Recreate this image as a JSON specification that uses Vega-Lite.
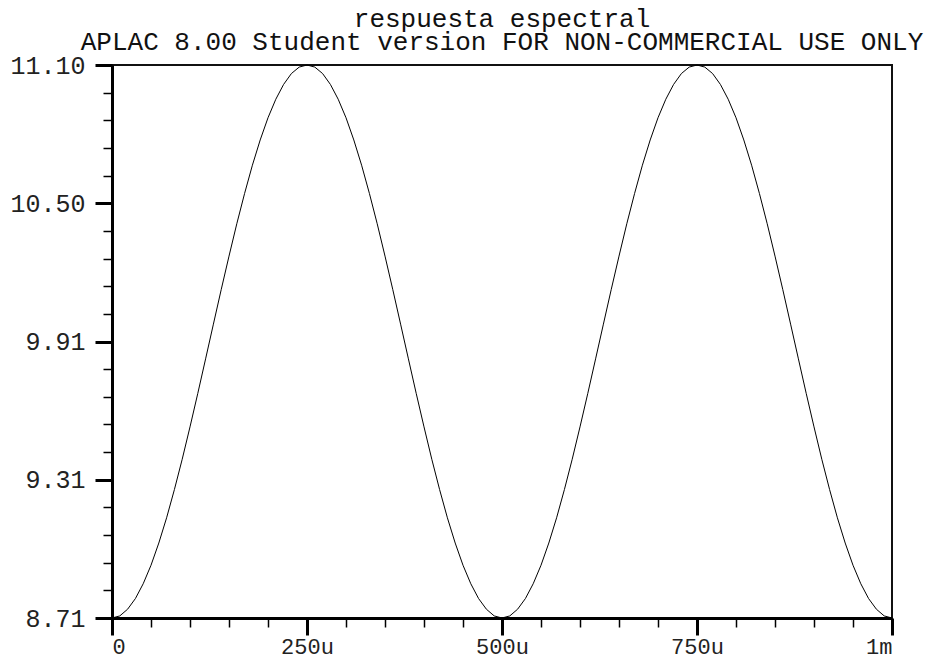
{
  "$schema": "https://vega.github.io/schema/vega-lite/v6.json",
  "width": 780,
  "height": 553,
  "autosize": {"type": "none"},
  "padding": {"left": 112, "top": 65, "right": 36, "bottom": 45},
  "background": "white",
  "title": {
    "text": "respuesta espectral",
    "subtitle": "APLAC 8.00 Student version FOR NON-COMMERCIAL USE ONLY",
    "font": "Liberation Mono",
    "subtitleFont": "Liberation Mono",
    "fontSize": 26,
    "subtitleFontSize": 26,
    "fontWeight": "normal",
    "color": "#111",
    "subtitleColor": "#111",
    "anchor": "middle",
    "lineHeight": 20,
    "subtitleLineHeight": 20,
    "subtitlePadding": -3,
    "offset": -2
  },
  "config": {
    "view": {"stroke": "#111", "strokeWidth": 2},
    "axis": {"grid": false, "title": null, "labelFont": "Liberation Mono", "labelFontSize": 25, "labelColor": "#222", "domainColor": "#000", "tickColor": "#000"}
  },
  "data": {"values": [
    {"t_us": 0, "v": 8.710}, {"t_us": 10, "v": 8.719}, {"t_us": 20, "v": 8.748}, {"t_us": 30, "v": 8.794}, {"t_us": 40, "v": 8.858},
    {"t_us": 50, "v": 8.938}, {"t_us": 60, "v": 9.034}, {"t_us": 70, "v": 9.143}, {"t_us": 80, "v": 9.265}, {"t_us": 90, "v": 9.396},
    {"t_us": 100, "v": 9.536}, {"t_us": 110, "v": 9.681}, {"t_us": 120, "v": 9.830}, {"t_us": 130, "v": 9.980}, {"t_us": 140, "v": 10.129},
    {"t_us": 150, "v": 10.274}, {"t_us": 160, "v": 10.414}, {"t_us": 170, "v": 10.545}, {"t_us": 180, "v": 10.667}, {"t_us": 190, "v": 10.776},
    {"t_us": 200, "v": 10.872}, {"t_us": 210, "v": 10.952}, {"t_us": 220, "v": 11.016}, {"t_us": 230, "v": 11.063}, {"t_us": 240, "v": 11.091},
    {"t_us": 250, "v": 11.100}, {"t_us": 260, "v": 11.091}, {"t_us": 270, "v": 11.063}, {"t_us": 280, "v": 11.016}, {"t_us": 290, "v": 10.952},
    {"t_us": 300, "v": 10.872}, {"t_us": 310, "v": 10.776}, {"t_us": 320, "v": 10.667}, {"t_us": 330, "v": 10.545}, {"t_us": 340, "v": 10.414},
    {"t_us": 350, "v": 10.274}, {"t_us": 360, "v": 10.129}, {"t_us": 370, "v": 9.980}, {"t_us": 380, "v": 9.830}, {"t_us": 390, "v": 9.681},
    {"t_us": 400, "v": 9.536}, {"t_us": 410, "v": 9.396}, {"t_us": 420, "v": 9.265}, {"t_us": 430, "v": 9.143}, {"t_us": 440, "v": 9.034},
    {"t_us": 450, "v": 8.938}, {"t_us": 460, "v": 8.858}, {"t_us": 470, "v": 8.794}, {"t_us": 480, "v": 8.748}, {"t_us": 490, "v": 8.719},
    {"t_us": 500, "v": 8.710}, {"t_us": 510, "v": 8.719}, {"t_us": 520, "v": 8.748}, {"t_us": 530, "v": 8.794}, {"t_us": 540, "v": 8.858},
    {"t_us": 550, "v": 8.938}, {"t_us": 560, "v": 9.034}, {"t_us": 570, "v": 9.143}, {"t_us": 580, "v": 9.265}, {"t_us": 590, "v": 9.396},
    {"t_us": 600, "v": 9.536}, {"t_us": 610, "v": 9.681}, {"t_us": 620, "v": 9.830}, {"t_us": 630, "v": 9.980}, {"t_us": 640, "v": 10.129},
    {"t_us": 650, "v": 10.274}, {"t_us": 660, "v": 10.414}, {"t_us": 670, "v": 10.545}, {"t_us": 680, "v": 10.667}, {"t_us": 690, "v": 10.776},
    {"t_us": 700, "v": 10.872}, {"t_us": 710, "v": 10.952}, {"t_us": 720, "v": 11.016}, {"t_us": 730, "v": 11.063}, {"t_us": 740, "v": 11.091},
    {"t_us": 750, "v": 11.100}, {"t_us": 760, "v": 11.091}, {"t_us": 770, "v": 11.063}, {"t_us": 780, "v": 11.016}, {"t_us": 790, "v": 10.952},
    {"t_us": 800, "v": 10.872}, {"t_us": 810, "v": 10.776}, {"t_us": 820, "v": 10.667}, {"t_us": 830, "v": 10.545}, {"t_us": 840, "v": 10.414},
    {"t_us": 850, "v": 10.274}, {"t_us": 860, "v": 10.129}, {"t_us": 870, "v": 9.980}, {"t_us": 880, "v": 9.830}, {"t_us": 890, "v": 9.681},
    {"t_us": 900, "v": 9.536}, {"t_us": 910, "v": 9.396}, {"t_us": 920, "v": 9.265}, {"t_us": 930, "v": 9.143}, {"t_us": 940, "v": 9.034},
    {"t_us": 950, "v": 8.938}, {"t_us": 960, "v": 8.858}, {"t_us": 970, "v": 8.794}, {"t_us": 980, "v": 8.748}, {"t_us": 990, "v": 8.719},
    {"t_us": 1000, "v": 8.710}
  ]},
  "layer": [
    {
      "mark": {"type": "line", "color": "#000", "strokeWidth": 1, "opacity": 0},
      "encoding": {
        "x": {"field": "t_us", "type": "quantitative", "scale": {"domain": [0, 1000], "nice": false, "zero": false},
              "axis": {"orient": "bottom", "values": [50, 100, 150, 200, 300, 350, 400, 450, 550, 600, 650, 700, 800, 850, 900, 950], "labels": false, "domain": false, "tickSize": 9, "tickWidth": 1.5}},
        "y": {"field": "v", "type": "quantitative", "scale": {"domain": [8.71, 11.1], "nice": false, "zero": false},
              "axis": {"orient": "left", "values": [8.8295, 8.949, 9.0685, 9.188, 9.427, 9.5465, 9.666, 9.7855, 10.0245, 10.144, 10.2635, 10.383, 10.622, 10.7415, 10.861, 10.9805], "labels": false, "domain": false, "tickSize": 9, "tickWidth": 1.5}}
      }
    },
    {
      "mark": {"type": "line", "color": "#000", "strokeWidth": 1},
      "encoding": {
        "x": {"field": "t_us", "type": "quantitative",
              "axis": {"orient": "bottom", "values": [0, 250, 500, 750, 1000], "tickSize": 17, "tickWidth": 3, "domainWidth": 3, "labelPadding": 1, "labelFontSize": 22,
                       "labelExpr": "datum.value == 0 ? '0' : datum.value == 1000 ? '1m' : datum.value + 'u'"}},
        "y": {"field": "v", "type": "quantitative",
              "axis": {"orient": "left", "values": [8.71, 9.3075, 9.905, 10.5025, 11.1], "tickSize": 17, "tickWidth": 3, "domainWidth": 3, "labelPadding": 10,
                       "labelExpr": "format(datum.value + 0.0001, '.2f')"}}
      }
    }
  ],
  "resolve": {"axis": {"x": "independent", "y": "independent"}}
}
